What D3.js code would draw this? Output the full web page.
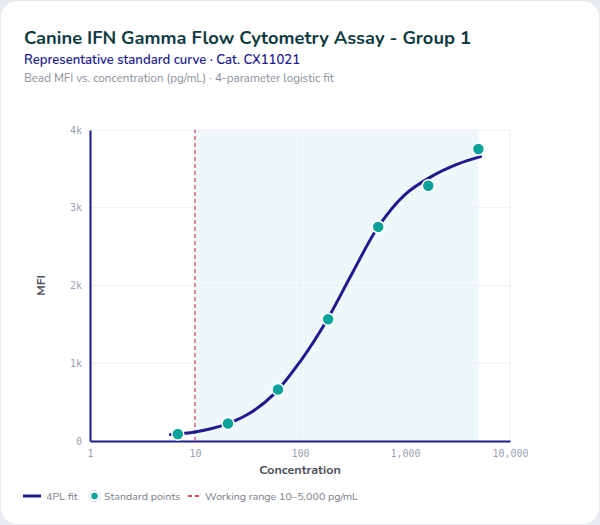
<!DOCTYPE html>
<html>
<head>
<meta charset="utf-8">
<script src="https://cdn.jsdelivr.net/npm/d3@7/dist/d3.min.js"></script>
<style>
  html, body { margin: 0; padding: 0; background: #e8eaf1; }
  svg { display: block; }
</style>
</head>
<body>
<svg id="chart" width="600" height="525"></svg>
<script>
// ---- Data ----
const standardConc = [6.86, 20.6, 61.7, 185.2, 555.6, 1666.7, 5000];
const standardMFI  = [90, 224, 663, 1566, 2754, 3283, 3755];

// 4PL fitted curve
const fitConc = [5.83, 7.5, 10, 17.8, 31.6, 56.2, 100, 178, 316, 562, 1000, 1778, 3162, 5250];
const fitMFI  = [83, 97, 117, 195, 340, 600, 1019, 1540, 2165, 2765, 3170, 3400, 3560, 3657];

const workingRange = [10, 5000];
const xTicks = [1, 10, 100, 1000, 10000];
const yTicks = [0, 1000, 2000, 3000, 4000];
const yTickLabels = ["0", "1k", "2k", "3k", "4k"];

const titleText = "Canine IFN Gamma Flow Cytometry Assay - Group 1";
const subtitleText = "Representative standard curve · Cat. CX11021";
const captionText = "Bead MFI vs. concentration (pg/mL) · 4-parameter logistic fit";
const legendLabels = ["4PL fit", "Standard points", "Working range 10–5,000 pg/mL"];

// ---- Drawing ----
const svg = d3.select("#chart");
const navy = "#1f1b8c";
const teal = "#0aa29a";
const red = "#d4505c";
const font = "Nunito, Lato, 'Noto Sans', sans-serif";
const mono = "'DejaVu Sans Mono', monospace";

svg.append("rect").attr("x", 1).attr("y", 1).attr("width", 598).attr("height", 523)
  .attr("rx", 16).attr("fill", "#ffffff");

svg.append("text").attr("x", 24).attr("y", 44).text(titleText)
  .attr("font-family", font).attr("font-weight", 700).attr("font-size", 18.3).attr("fill", "#0e3a42");
svg.append("text").attr("x", 24).attr("y", 64).text(subtitleText)
  .attr("font-family", font).attr("font-weight", 600).attr("font-size", 13.1).attr("fill", "#231c8e");
svg.append("text").attr("x", 24).attr("y", 82).text(captionText)
  .attr("font-family", font).attr("font-size", 11.6).attr("fill", "#8b909b");

const x = d3.scaleLog().domain([1, 10000]).range([90, 510]);
const y = d3.scaleLinear().domain([0, 4000]).range([441, 130]);

// shaded working range
svg.append("rect")
  .attr("x", x(workingRange[0])).attr("y", y(4000))
  .attr("width", x(workingRange[1]) - x(workingRange[0]))
  .attr("height", y(0) - y(4000))
  .attr("fill", "#eef8f9");

// gridlines
svg.append("g").selectAll("line").data(yTicks.slice(1)).join("line")
  .attr("x1", x(1)).attr("x2", x(10000))
  .attr("y1", d => y(d)).attr("y2", d => y(d))
  .attr("stroke", "#eceef4").attr("stroke-width", 1);
svg.append("g").selectAll("line").data(xTicks.slice(1)).join("line")
  .attr("x1", d => x(d)).attr("x2", d => x(d))
  .attr("y1", y(0)).attr("y2", y(4000))
  .attr("stroke", "#eceef4").attr("stroke-width", 1);

// axes
const xAxis = d3.axisBottom(x).tickValues(xTicks).tickSize(0).tickPadding(9)
  .tickFormat(d3.format(","));
const gx = svg.append("g").attr("transform", `translate(0,${y(0)})`).call(xAxis);
gx.select(".domain").attr("stroke", navy).attr("stroke-width", 2);
gx.selectAll("text").attr("font-family", mono).attr("font-size", 10).attr("fill", "#9a9fb5");

const yAxis = d3.axisLeft(y).tickValues(yTicks).tickSize(0).tickPadding(8)
  .tickFormat((d, i) => yTickLabels[i]);
const gy = svg.append("g").attr("transform", `translate(${x(1)},0)`).call(yAxis);
gy.select(".domain").attr("stroke", navy).attr("stroke-width", 2);
gy.selectAll("text").attr("font-family", mono).attr("font-size", 10).attr("fill", "#9a9fb5");

// working range lower limit
svg.append("line")
  .attr("x1", x(workingRange[0])).attr("x2", x(workingRange[0]))
  .attr("y1", y(0)).attr("y2", y(4000))
  .attr("stroke", red).attr("stroke-width", 1.3).attr("stroke-dasharray", "4,3");

// axis titles
svg.append("text").attr("x", 300).attr("y", 474).attr("text-anchor", "middle")
  .text("Concentration").attr("font-family", font).attr("font-weight", 700)
  .attr("font-size", 12.5).attr("fill", "#4b505c");
svg.append("text").attr("transform", `translate(45,${(y(0) + y(4000)) / 2}) rotate(-90)`)
  .attr("text-anchor", "middle").text("MFI").attr("font-family", font).attr("font-weight", 700)
  .attr("font-size", 12).attr("fill", "#4b505c");

// fit curve
const fitData = fitConc.map((c, i) => [c, fitMFI[i]]);
const line = d3.line().x(d => x(d[0])).y(d => y(d[1])).curve(d3.curveCatmullRom.alpha(0.5));
svg.append("path").datum(fitData).attr("d", line)
  .attr("fill", "none").attr("stroke", navy).attr("stroke-width", 3).attr("stroke-linecap", "round");

// standard points
svg.append("g").selectAll("circle").data(standardConc.map((c, i) => [c, standardMFI[i]])).join("circle")
  .attr("cx", d => x(d[0])).attr("cy", d => y(d[1])).attr("r", 6)
  .attr("fill", teal).attr("stroke", "#ffffff").attr("stroke-width", 1.5);

// legend
const ly = 496;
const lfs = 10.7;
const lg = svg.append("g");
lg.append("line").attr("x1", 23).attr("x2", 41).attr("y1", ly).attr("y2", ly)
  .attr("stroke", navy).attr("stroke-width", 3);
lg.append("text").attr("x", 46).attr("y", ly + 4).text(legendLabels[0])
  .attr("font-family", font).attr("font-size", lfs).attr("fill", "#7b808c");
lg.append("circle").attr("cx", 94.5).attr("cy", ly).attr("r", 5.5)
  .attr("fill", "#ffffff").attr("stroke", "#d9dbe2").attr("stroke-width", 1);
lg.append("circle").attr("cx", 94.5).attr("cy", ly).attr("r", 3.2).attr("fill", teal);
lg.append("text").attr("x", 104).attr("y", ly + 4).text(legendLabels[1])
  .attr("font-family", font).attr("font-size", lfs).attr("fill", "#7b808c");
lg.append("line").attr("x1", 188).attr("x2", 200).attr("y1", ly).attr("y2", ly)
  .attr("stroke", red).attr("stroke-width", 2).attr("stroke-dasharray", "4,3");
lg.append("text").attr("x", 205).attr("y", ly + 4).text(legendLabels[2])
  .attr("font-family", font).attr("font-size", lfs).attr("fill", "#7b808c");
</script>
</body>
</html>
